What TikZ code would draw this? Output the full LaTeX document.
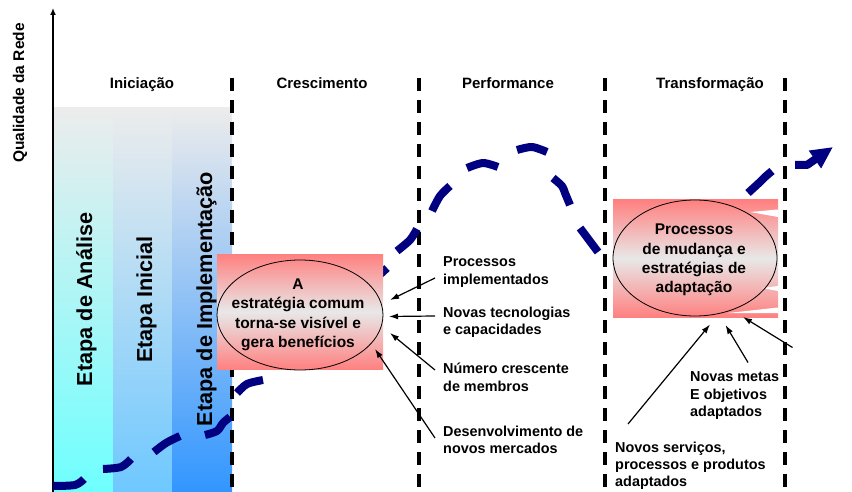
\documentclass[tikz,border=0pt]{standalone}
\usepackage{fontspec}
\setmainfont{Liberation Sans}
\usetikzlibrary{arrows.meta,shapes.geometric}

\definecolor{navyline}{RGB}{0,0,128}
\definecolor{pinkedge}{RGB}{255,128,128}
\definecolor{pinkmid}{RGB}{232,232,232}
\definecolor{topgray}{RGB}{236,236,236}
\definecolor{cyanA}{RGB}{110,255,255}
\definecolor{blueB}{RGB}{110,200,255}
\definecolor{blueC}{RGB}{50,150,255}

\begin{document}
\begin{tikzpicture}[x=1pt,y=-1pt,
  phaseline/.style={line width=3.3pt, dash pattern=on 13pt off 9pt},
  wave/.style={line width=8pt, draw=navyline, line cap=butt, line join=round},
  pinkbox/.style={rectangle, top color=pinkedge, bottom color=pinkedge, middle color=pinkmid, draw=none, inner sep=0pt},
  oval/.style={ellipse, draw=black, line width=0.8pt, inner sep=0pt},
  ovaltext/.style={align=center, inner sep=0pt, font=\fontsize{15.5}{19.3}\selectfont\bfseries},
  lbl/.style={align=left, inner sep=0pt, anchor=north west, font=\fontsize{14.4}{17.3}\selectfont\bfseries},
  phase/.style={anchor=base, inner sep=0pt, font=\fontsize{15}{18}\selectfont\bfseries},
  stage/.style={rotate=90, anchor=base west, inner sep=0pt, font=\fontsize{21.7}{26}\selectfont\bfseries},
  pointer/.style={line width=1.2pt, -{Latex[length=9pt,width=6pt]}},
]
\useasboundingbox (0,0) rectangle (852,492);

% shaded stage columns
\shade[top color=topgray, bottom color=cyanA] (54,108) rectangle (113,492);
\shade[top color=topgray, bottom color=blueB] (113,108) rectangle (172,492);
\shade[top color=topgray, bottom color=blueC] (172,108) rectangle (232,492);

% vertical axis
\coordinate (axisfoot) at (53,492);
\coordinate (axistip) at (53,8);
\draw[line width=1.5pt, -{Latex[length=7pt,width=6pt]}] (axisfoot) -- (axistip);
\node[rotate=90, anchor=base west, inner sep=0pt, font=\fontsize{15.5}{18}\selectfont\bfseries] (ylabel) at (24,163) {Qualidade da Rede};

% stage names
\node[stage] (st1) at (92,386.5) {Etapa de Análise};
\node[stage] (st2) at (152,363) {Etapa Inicial};
\node[stage] (st3) at (212,426.5) {Etapa de Implementação};

% phase separators
\foreach \px/\nm in {232/sepA,419/sepB,605/sepC,785/sepD}{
  \coordinate (\nm top) at (\px,78);
  \coordinate (\nm bot) at (\px,492);
  \draw[phaseline] (\nm top) -- (\nm bot);
}

% phase headings
\node[phase] (ph1) at (142,89) {Iniciação};
\node[phase] (ph2) at (322,89) {Crescimento};
\node[phase] (ph3) at (508,89) {Performance};
\node[phase] (ph4) at (710,89) {Transformação};

% dashed growth curve, one stroke per dash
\draw[wave] plot[smooth] coordinates {(53,486) (75,485) (84,479)};
\draw[wave] plot[smooth] coordinates {(103,469) (121,467) (131,459)};
\draw[wave] plot[smooth] coordinates {(154,452) (166,443) (180,436)};
\draw[wave] plot[smooth] coordinates {(205,435) (217,431) (223,423) (230,417)};
\draw[wave] plot[smooth] coordinates {(237,393) (247,384) (263,380)};
\draw[wave] plot[smooth] coordinates {(362,290) (375,279) (387,268)};
\draw[wave] plot[smooth] coordinates {(397,251) (410,240) (417,229)};
\draw[wave] plot[smooth] coordinates {(432,211) (440,196) (450,186)};
\draw[wave] plot[smooth] coordinates {(467,168) (483,163) (498,167)};
\draw[wave] plot[smooth] coordinates {(517,150) (532,147) (547,152)};
\draw[wave] plot[smooth] coordinates {(553,178) (562,186) (565,193) (570,205)};
\draw[wave] plot[smooth] coordinates {(580,228) (598,252)};
\draw[wave] plot[smooth] coordinates {(748,193) (760,182) (765,177) (772,171)};
\draw[wave, -{Triangle[length=22pt,width=20pt]}] (795,165) -- (807,165) -- (833,147);

% growth stage box
\node[pinkbox, minimum width=166pt, minimum height=115.5pt] (box1) at (300,311.8) {};
\node[oval, minimum width=166pt, minimum height=110pt] (oval1) at (300,315) {};
\node[ovaltext] (txt1) at (298,314.7) {A\\estratégia comum\\torna-se visível e\\gera benefícios};

% transformation box
\node[pinkbox, minimum width=165pt, minimum height=117pt] (box2) at (695.5,258.5) {};
\fill[white] (750,212) -- (778,209.5) -- (778,217) -- cycle;
\fill[white] (762,288) -- (778,286) -- (778,291) -- cycle;
\fill[white] (728,313) -- (778,307.5) -- (778,313) -- cycle;
\node[oval, minimum width=164pt, minimum height=116pt] (oval2) at (695,258) {};
\node[ovaltext] (txt2) at (694,260) {Processos\\de mudança e\\estratégias de\\adaptação};

% growth drivers
\node[lbl] (d1) at (443,256.7) {Processos\\implementados};
\node[lbl] (d2) at (443,306.7) {Novas tecnologias\\e capacidades};
\node[lbl] (d3) at (443,363) {Número crescente\\de membros};
\node[lbl] (d4) at (443,426) {Desenvolvimento de\\novos mercados};

\coordinate (s1) at (435,278);   \coordinate (e1) at (390,300);
\coordinate (s2) at (435,316);   \coordinate (e2) at (389,316.5);
\coordinate (s3) at (435,370);   \coordinate (e3) at (390,333);
\coordinate (s4) at (435,438);   \coordinate (e4) at (375,349);
\draw[pointer] (s1) -- (e1);
\draw[pointer] (s2) -- (e2);
\draw[pointer] (s3) -- (e3);
\draw[pointer] (s4) -- (e4);

% transformation drivers
\node[lbl] (t1) at (690,371.7) {Novas metas\\E objetivos\\adaptados};
\node[lbl] (t2) at (615,441.5) {Novos serviços,\\processos e produtos\\adaptados};

\coordinate (s5) at (628,424);   \coordinate (e5) at (710,324.5);
\coordinate (s6) at (748,362.5); \coordinate (e6) at (725.5,325);
\coordinate (s7) at (792.5,347.5); \coordinate (e7) at (743,317);
\draw[pointer] (s5) -- (e5);
\draw[pointer] (s6) -- (e6);
\draw[pointer] (s7) -- (e7);
\end{tikzpicture}
\end{document}
